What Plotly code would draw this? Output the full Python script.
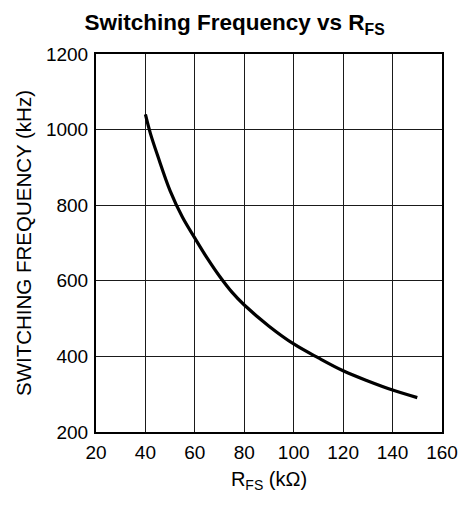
import plotly.graph_objects as go

r_fs_kohm = [40, 42, 45, 50, 55, 60, 65, 70, 75, 80, 90, 100, 110, 120, 130, 140, 150]
freq_khz = [1040, 990, 930, 838, 768, 713, 660, 612, 570, 536, 480, 433, 396, 362, 335, 311, 291]

x_ticks = [20, 40, 60, 80, 100, 120, 140, 160]
y_ticks = [200, 400, 600, 800, 1000, 1200]

FONT = "Liberation Sans, Arial, sans-serif"

fig = go.Figure()
fig.add_trace(go.Scatter(
    x=r_fs_kohm, y=freq_khz, mode="lines",
    line=dict(color="black", width=3.2, shape="spline", smoothing=1.0),
    showlegend=False, hoverinfo="skip",
))

fig.update_layout(
    width=460, height=506,
    margin=dict(l=96, r=18, t=54, b=74),
    paper_bgcolor="white", plot_bgcolor="white",
    font=dict(family=FONT, color="black"),
    title=dict(
        text="<b>Switching Frequency vs R<sub>FS</sub></b>",
        font=dict(family=FONT, size=22.5, color="black"),
        x=0.51, xref="container", xanchor="center",
        y=1 - 22 / 506, yref="container", yanchor="middle",
    ),
)

fig.update_xaxes(
    range=[20, 160], tickvals=x_ticks, ticktext=[str(v) for v in x_ticks],
    showgrid=True, gridcolor="#1a1a1a", gridwidth=1.2,
    showline=True, linecolor="black", linewidth=2, mirror=True,
    ticks="", ticklabelstandoff=2,
    tickfont=dict(family=FONT, size=19, color="black"),
    title=dict(text="R<sub>FS</sub> (kΩ)", font=dict(family=FONT, size=20, color="black"), standoff=10),
    zeroline=False, automargin=False,
)
fig.update_yaxes(
    range=[200, 1200], tickvals=y_ticks, ticktext=[str(v) for v in y_ticks],
    showgrid=True, gridcolor="#1a1a1a", gridwidth=1.2,
    showline=True, linecolor="black", linewidth=2, mirror=True,
    ticks="", ticklabelstandoff=2,
    tickfont=dict(family=FONT, size=19, color="black"),
    title=dict(text="SWITCHING FREQUENCY (kHz)", font=dict(family=FONT, size=20.5, color="black"), standoff=9),
    zeroline=False, automargin=False,
)

fig.write_html(
    "out.html",
    config={"displayModeBar": False},
    post_script="document.body.style.margin='0px';document.body.style.overflow='hidden';",
)
